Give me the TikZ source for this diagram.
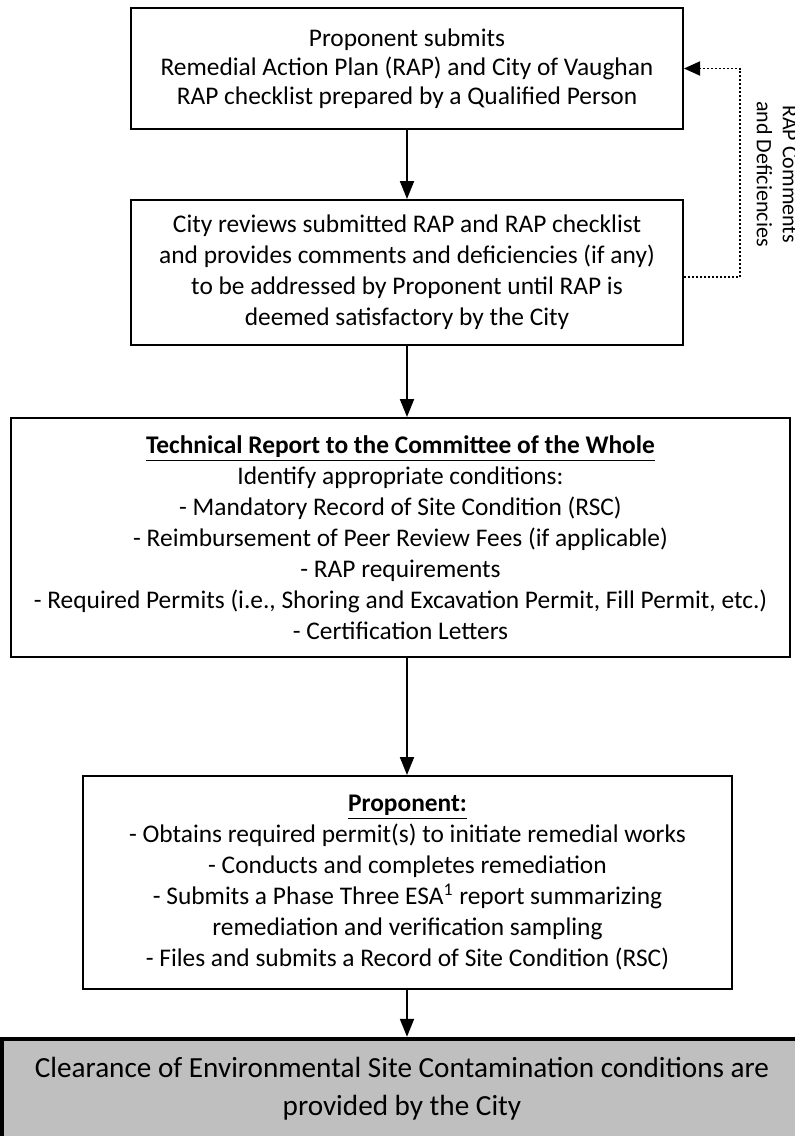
\documentclass[tikz,border=0pt]{standalone}
\usepackage{fontspec}
\setmainfont{Carlito}
\usetikzlibrary{arrows.meta}
\definecolor{boxgray}{RGB}{191,191,191}
\tikzset{
  flowbox/.style={draw=black, line width=1pt, align=center, inner sep=0pt,
    font=\fontsize{12.7}{15.5}\selectfont},
  flowarrow/.style={line width=1pt, -{Triangle[width=7pt,length=9pt]}},
  feedback/.style={line width=0.9pt, dash pattern=on 1pt off 1pt, -{Triangle[width=7pt,length=8pt]}},
  endbox/.style={draw=black, line width=2.2pt, fill=boxgray, align=center, inner sep=0pt,
    font=\fontsize{14.6}{19}\selectfont},
  sidelabel/.style={align=center, font=\fontsize{11}{13}\selectfont, rotate=-90}
}
\begin{document}
\begin{tikzpicture}[x=0.5pt,y=-0.5pt]
\useasboundingbox (0,0) rectangle (795,1136);
\node[flowbox, font=\fontsize{12.7}{14.5}\selectfont, minimum width=276pt, minimum height=60.5pt] (b1) at (407,68.5)
  {Proponent submits\\Remedial Action Plan (RAP) and City of Vaughan\\RAP checklist prepared by a Qualified Person};
\node[flowbox, minimum width=276pt, minimum height=72.5pt] (b2) at (407,272.5)
  {City reviews submitted RAP and RAP checklist\\and provides comments and deficiencies (if any)\\to be addressed by Proponent until RAP is\\deemed satisfactory by the City};
\node[flowbox, minimum width=389.5pt, minimum height=119.5pt] (b3) at (400.5,537.5)
  {\textbf{\underline{Technical Report to the Committee of the Whole}}\\
   Identify appropriate conditions:\\
   - Mandatory Record of Site Condition (RSC)\\
   - Reimbursement of Peer Review Fees (if applicable)\\
   - RAP requirements\\
   - Required Permits (i.e., Shoring and Excavation Permit, Fill Permit, etc.)\\
   - Certification Letters};
\node[flowbox, minimum width=324.5pt, minimum height=106.5pt] (b4) at (407.5,882.5)
  {\textbf{\underline{Proponent:}}\\
   - Obtains required permit(s) to initiate remedial works\\
   - Conducts and completes remediation\\
   - Submits a Phase Three ESA\textsuperscript{1} report summarizing\\
   remediation and verification sampling\\
   - Files and submits a Record of Site Condition (RSC)};
\node[endbox, minimum width=400pt, minimum height=50pt] (b5) at (402,1089)
  {Clearance of Environmental Site Contamination conditions are\\provided by the City};
\draw[flowarrow] (b1.south) -- (b2.north);
\draw[flowarrow] (b2.south) -- (b3.north -| b2.south);
\draw[flowarrow] (b3.south -| b2.south) -- (b4.north -| b2.south);
\draw[flowarrow] (b4.south -| b2.south) -- (b5.north -| b2.south);
\coordinate (fbtop) at (740,68.5);
\coordinate (fbbot) at (740,277);
\draw[feedback] (b2.east |- fbbot) -- (fbbot) -- (fbtop) -- (b1.east);
\node[sidelabel] (lbl) at (777,174) {RAP Comments\\and Deficiencies};
\end{tikzpicture}
\end{document}
